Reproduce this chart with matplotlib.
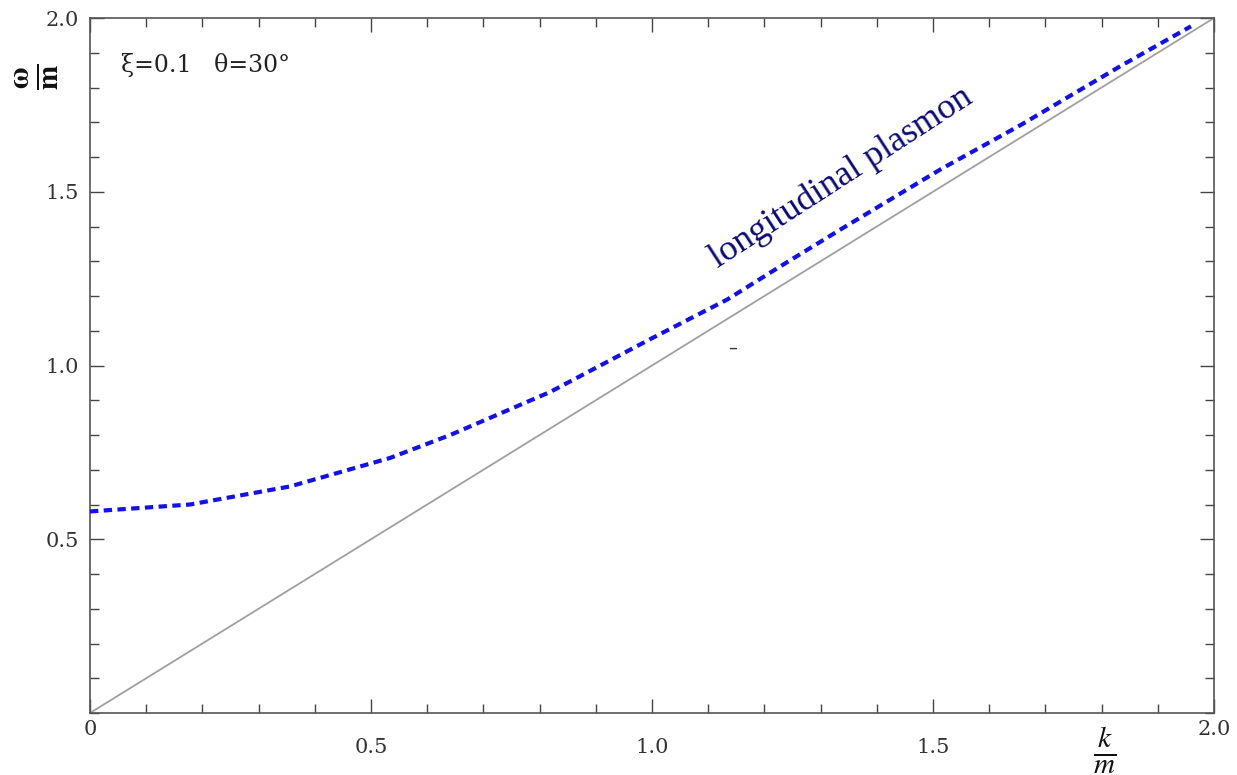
import matplotlib
matplotlib.use("Agg")
import matplotlib.pyplot as plt
import matplotlib.transforms as mtransforms
from matplotlib.ticker import MultipleLocator

# Data
k_vals = [0.0, 0.178, 0.356, 0.534, 0.641, 0.819, 0.997, 1.134, 1.229,
          1.336, 1.514, 1.656, 1.834, 1.959]
omega_vals = [0.580, 0.600, 0.652, 0.734, 0.800, 0.924, 1.076, 1.190, 1.286,
              1.392, 1.565, 1.692, 1.862, 1.976]
light_k = [0.0, 2.0]
light_omega = [0.0, 2.0]
xtick_vals = [0.0, 0.5, 1.0, 1.5, 2.0]
xtick_labels = ["0", "0.5", "1.0", "1.5", "2.0"]
ytick_vals = [0.5, 1.0, 1.5, 2.0]
ytick_labels = ["0.5", "1.0", "1.5", "2.0"]

plt.rcParams['mathtext.fontset'] = 'stix'

fig = plt.figure(figsize=(12.37, 7.75), dpi=100)
ax = fig.add_axes([90/1237, 62/775, 1124/1237, 695/775])

ax.plot(light_k, light_omega, color='#a0a0a0', lw=1.3, zorder=2)
ax.plot(k_vals, omega_vals, color='#1010f0', lw=3.0, linestyle=(0, (2.0, 1.3)),
        dash_capstyle='butt', zorder=3)

ax.set_xlim(0, 2.0)
ax.set_ylim(0, 2.0)
ax.set_xticks(xtick_vals)
ax.set_xticklabels(xtick_labels)
ax.set_yticks(ytick_vals)
ax.set_yticklabels(ytick_labels)
ax.xaxis.set_minor_locator(MultipleLocator(0.1))
ax.yaxis.set_minor_locator(MultipleLocator(0.1))

tick_color = '#444444'
ax.tick_params(which='both', direction='in', top=True, right=True, color=tick_color,
               width=1.0, labelcolor='#333333')
ax.tick_params(which='major', length=10, labelsize=15)
ax.tick_params(axis='y', which='major', pad=8)
ax.tick_params(axis='x', which='major', pad=5)
ax.tick_params(which='minor', length=6.5)
for lab in ax.get_xticklabels() + ax.get_yticklabels():
    lab.set_family('DejaVu Serif')
# middle x tick labels sit lower in the reference
shift = mtransforms.ScaledTranslation(0, -13/72, fig.dpi_scale_trans)
for lab in ax.get_xticklabels()[1:4]:
    lab.set_transform(lab.get_transform() + shift)
for s in ax.spines.values():
    s.set_color('#555555')
    s.set_linewidth(1.2)

ax.text(0.028, 0.933, "ξ=0.1   θ=30°", transform=ax.transAxes, fontsize=17,
        family='DejaVu Serif', color='#222222', va='center', ha='left')

ax.text(1.336, 1.542, "longitudinal plasmon", fontsize=26, family='Liberation Serif',
        color='#0a0a78', rotation=33, rotation_mode='anchor', ha='center', va='center')

ax.text(1.143, 1.052, "–", fontsize=13, color='#333333', ha='center', va='center')

fig.text(1105/1237, 1 - 750/775, r'$\frac{k}{m}$', fontsize=30, ha='center', va='center',
         color='#111111')
fig.text(37/1237, 1 - 77/775, r'$\mathbf{\frac{\omega}{m}}$', fontsize=30, ha='center',
         va='center', rotation=90, color='#111111')

fig.savefig("out.png", dpi=100, facecolor='white')
